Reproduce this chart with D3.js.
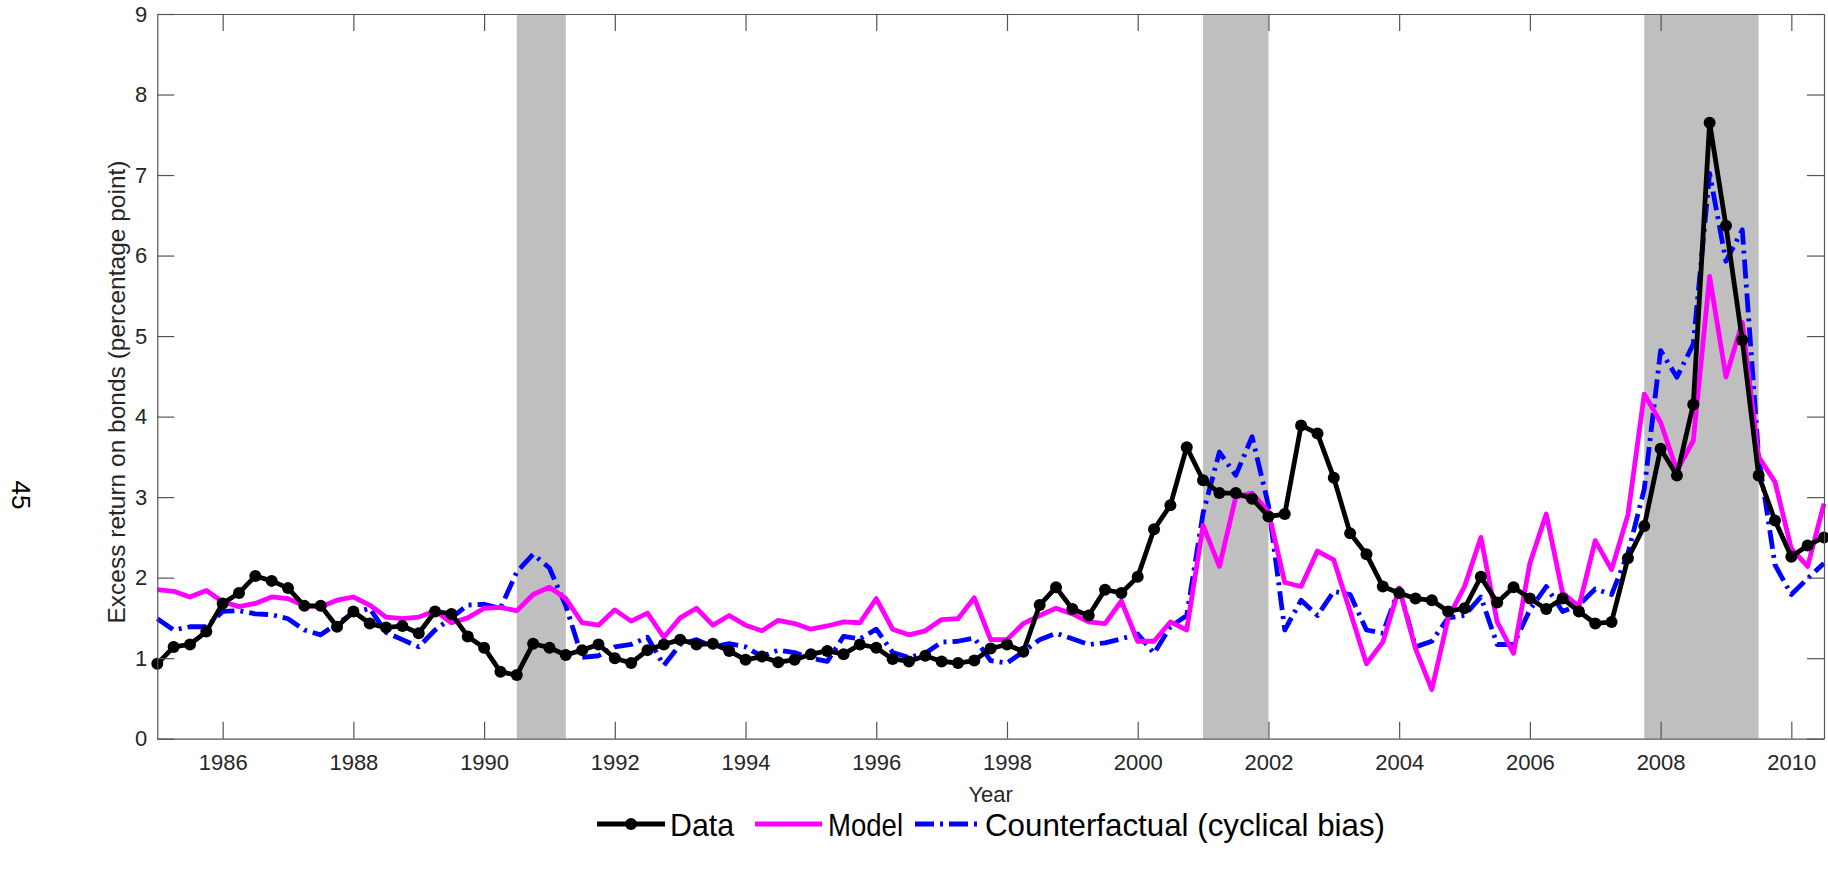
<!DOCTYPE html>
<html>
<head>
<meta charset="utf-8">
<script src="https://cdn.jsdelivr.net/npm/d3@7"></script>
<style>
  body { margin: 0; background: #fff; }
  text { font-family: "Liberation Sans", Arial, Helvetica, sans-serif; }
</style>
</head>
<body>
<svg id="chart" width="1828" height="874"></svg>
<script>
// quarterly observations, first one at 1985.00, one every 0.25 year
var startYear = 1985;
var stepYear = 0.25;

var dataSeries = [
  0.93, 1.14, 1.17, 1.33, 1.68, 1.81, 2.02, 1.96, 1.87, 1.65,
  1.65, 1.39, 1.58, 1.43, 1.38, 1.40, 1.31, 1.58, 1.55, 1.27,
  1.13, 0.83, 0.79, 1.18, 1.13, 1.04, 1.10, 1.17, 1.00, 0.94,
  1.10, 1.17, 1.23, 1.17, 1.18, 1.09, 0.98, 1.02, 0.95, 0.98,
  1.05, 1.09, 1.05, 1.17, 1.13, 0.99, 0.96, 1.03, 0.96, 0.94,
  0.97, 1.12, 1.17, 1.08, 1.66, 1.88, 1.61, 1.53, 1.85, 1.81,
  2.01, 2.60, 2.90, 3.62, 3.21, 3.05, 3.05, 2.98, 2.76, 2.79,
  3.89, 3.79, 3.24, 2.55, 2.29, 1.89, 1.81, 1.74, 1.72, 1.58,
  1.62, 2.01, 1.69, 1.88, 1.74, 1.61, 1.74, 1.58, 1.43, 1.45,
  2.24, 2.64, 3.60, 3.27, 4.15, 7.65, 6.37, 4.95, 3.27, 2.71,
  2.26, 2.40, 2.50
];

var modelSeries = [
  1.85, 1.83, 1.76, 1.84, 1.70, 1.64, 1.68, 1.76, 1.74, 1.65,
  1.64, 1.72, 1.76, 1.66, 1.51, 1.49, 1.51, 1.59, 1.44, 1.50,
  1.62, 1.63, 1.59, 1.79, 1.88, 1.74, 1.44, 1.41, 1.60, 1.46,
  1.56, 1.26, 1.50, 1.62, 1.41, 1.53, 1.41, 1.34, 1.47, 1.43,
  1.36, 1.40, 1.45, 1.44, 1.74, 1.36, 1.29, 1.34, 1.48, 1.49,
  1.75, 1.23, 1.23, 1.43, 1.53, 1.62, 1.55, 1.45, 1.43, 1.71,
  1.21, 1.21, 1.45, 1.35, 2.65, 2.14, 3.00, 3.05, 2.82, 1.94,
  1.89, 2.33, 2.22, 1.58, 0.93, 1.20, 1.87, 1.12, 0.61, 1.50,
  1.89, 2.50, 1.45, 1.06, 2.18, 2.79, 1.81, 1.64, 2.46, 2.10,
  2.78, 4.28, 3.93, 3.33, 3.70, 5.74, 4.49, 5.17, 3.50, 3.19,
  2.36, 2.14, 2.92
];

var counterSeries = [
  1.49, 1.35, 1.39, 1.39, 1.58, 1.59, 1.55, 1.54, 1.49, 1.35,
  1.29, 1.43, 1.56, 1.62, 1.32, 1.23, 1.14, 1.35, 1.50, 1.66,
  1.67, 1.62, 2.07, 2.29, 2.12, 1.65, 1.01, 1.03, 1.14, 1.17,
  1.26, 0.91, 1.17, 1.23, 1.14, 1.18, 1.14, 1.02, 1.10, 1.07,
  1.00, 0.96, 1.27, 1.24, 1.36, 1.07, 1.01, 1.06, 1.20, 1.21,
  1.25, 0.97, 0.94, 1.08, 1.23, 1.31, 1.24, 1.17, 1.19, 1.24,
  1.30, 1.06, 1.39, 1.53, 2.80, 3.56, 3.27, 3.75, 2.90, 1.35,
  1.72, 1.53, 1.83, 1.79, 1.35, 1.31, 1.87, 1.14, 1.21, 1.50,
  1.53, 1.76, 1.17, 1.17, 1.60, 1.89, 1.58, 1.66, 1.86, 1.79,
  2.30, 3.10, 4.82, 4.49, 4.90, 7.02, 5.93, 6.32, 3.50, 2.16,
  1.79, 1.99, 2.18
];

// shaded recession periods [start, end]
var recessions = [[1990.5, 1991.25], [2001.0, 2002.0], [2007.75, 2009.5]];

var xTicks = [1986, 1988, 1990, 1992, 1994, 1996, 1998, 2000, 2002, 2004, 2006, 2008, 2010];
var yTicks = [0, 1, 2, 3, 4, 5, 6, 7, 8, 9];
var xDomain = [1985, 2010.5];
var yDomain = [0, 9];

var legendLabels = ["Data", "Model", "Counterfactual (cyclical bias)"];

var svg = d3.select("#chart"),
  margin = {top: 14, right: 4, bottom: 135.3, left: 157.3},
  width = +svg.attr("width") - margin.left - margin.right,
  height = +svg.attr("height") - margin.top - margin.bottom,
  g = svg.append("g").attr("transform", "translate(" + margin.left + "," + margin.top + ")");

var x = d3.scaleLinear().domain(xDomain).range([0, width]);
var y = d3.scaleLinear().domain(yDomain).range([height, 0]);

var axisColor = "#555",
  textColor = "#262626",
  tickLen = 17,
  lineW = 4.8,
  dotR = 6;

// recession bands
g.append("g")
  .selectAll("rect")
  .data(recessions)
  .enter().append("rect")
    .attr("x", function(d) { return x(d[0]); })
    .attr("width", function(d) { return x(d[1]) - x(d[0]); })
    .attr("y", 0)
    .attr("height", height)
    .attr("fill", "#bfbfbf");

function toPoints(values) {
  return values.map(function(v, i) { return {t: startYear + i * stepYear, v: v}; });
}

var line = d3.line()
  .x(function(d) { return x(d.t); })
  .y(function(d) { return y(d.v); });

var series = [
  {name: legendLabels[0], values: toPoints(dataSeries), color: "#000000", dash: null, marker: true},
  {name: legendLabels[1], values: toPoints(modelSeries), color: "#ff00ff", dash: null, marker: false},
  {name: legendLabels[2], values: toPoints(counterSeries), color: "#0000ff", dash: "19,6,3,6", marker: false}
];

var plot = g.append("g");

// draw in reverse so data sits on top
series.slice().reverse().forEach(function(s) {
  plot.append("path")
    .datum(s.values)
    .attr("fill", "none")
    .attr("stroke", s.color)
    .attr("stroke-width", lineW)
    .attr("stroke-linejoin", "round")
    .attr("stroke-dasharray", s.dash)
    .attr("d", line);

  if (s.marker) {
    plot.append("g")
      .selectAll("circle")
      .data(s.values)
      .enter().append("circle")
        .attr("cx", function(d) { return x(d.t); })
        .attr("cy", function(d) { return y(d.v); })
        .attr("r", dotR)
        .attr("fill", s.color);
  }
});

// axes, ticks pointing inward on all four sides
function styleAxis(sel) {
  sel.select(".domain").attr("stroke", axisColor).attr("stroke-width", 1.2);
  sel.selectAll(".tick line").attr("stroke", axisColor).attr("stroke-width", 1.2);
  sel.selectAll("text").attr("fill", textColor).attr("font-size", 22);
}

g.append("g")
  .attr("transform", "translate(0," + height + ")")
  .call(d3.axisBottom(x).tickValues(xTicks).tickFormat(d3.format("d"))
    .tickSizeInner(-tickLen).tickSizeOuter(0).tickPadding(16))
  .call(styleAxis);

g.append("g")
  .call(d3.axisTop(x).tickValues(xTicks).tickFormat("")
    .tickSizeInner(-tickLen).tickSizeOuter(0))
  .call(styleAxis);

g.append("g")
  .call(d3.axisLeft(y).tickValues(yTicks).tickFormat(d3.format("d"))
    .tickSizeInner(-tickLen).tickSizeOuter(0).tickPadding(10))
  .call(styleAxis);

g.append("g")
  .attr("transform", "translate(" + width + ",0)")
  .call(d3.axisRight(y).tickValues(yTicks).tickFormat("")
    .tickSizeInner(-tickLen).tickSizeOuter(0))
  .call(styleAxis);

// axis titles
svg.append("text")
  .attr("x", margin.left + width / 2)
  .attr("y", 802)
  .attr("text-anchor", "middle")
  .attr("font-size", 22)
  .attr("fill", textColor)
  .text("Year");

svg.append("text")
  .attr("transform", "translate(116,392) rotate(-90)")
  .attr("text-anchor", "middle")
  .attr("dy", "0.35em")
  .attr("font-size", 24.5)
  .attr("fill", textColor)
  .text("Excess return on bonds (percentage point)");

// page number of the source document
svg.append("text")
  .attr("transform", "translate(21,495) rotate(90)")
  .attr("text-anchor", "middle")
  .attr("dy", "0.35em")
  .attr("font-size", 26)
  .attr("fill", "#000")
  .text("45");

// legend
var legendItems = [
  {x0: 597, x1: 665, tx: 670, tw: 64},
  {x0: 755, x1: 822, tx: 828, tw: 75},
  {x0: 915, x1: 979, tx: 985, tw: 400}
];
var legendY = 824;
var legend = svg.append("g");

legendItems.forEach(function(it, i) {
  var s = series[i];
  legend.append("line")
    .attr("x1", it.x0).attr("x2", it.x1)
    .attr("y1", legendY).attr("y2", legendY)
    .attr("stroke", s.color)
    .attr("stroke-width", lineW)
    .attr("stroke-dasharray", s.dash);
  if (s.marker) {
    legend.append("circle")
      .attr("cx", (it.x0 + it.x1) / 2)
      .attr("cy", legendY)
      .attr("r", dotR)
      .attr("fill", s.color);
  }
  legend.append("text")
    .attr("x", it.tx)
    .attr("y", legendY)
    .attr("dy", "0.36em")
    .attr("font-size", 32)
    .attr("textLength", it.tw)
    .attr("lengthAdjust", "spacingAndGlyphs")
    .attr("fill", "#000")
    .text(legendLabels[i]);
});
</script>
</body>
</html>
